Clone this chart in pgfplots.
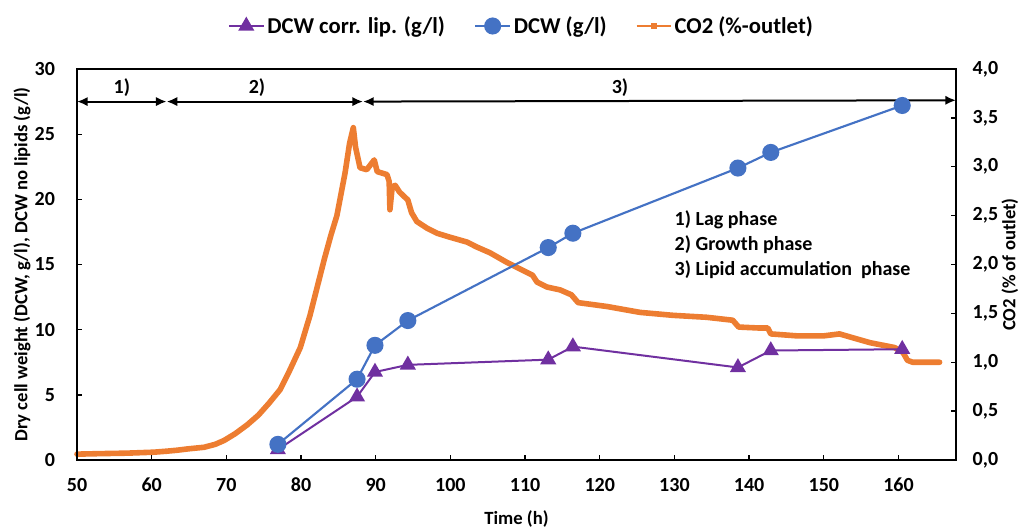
\documentclass[border=0pt]{standalone}
\usepackage{pgfplots}
\pgfplotsset{compat=1.18}
\usepackage{fontspec}
\setmainfont{Carlito}
\usetikzlibrary{arrows.meta}
\definecolor{cblue}{HTML}{4472C4}
\definecolor{corange}{HTML}{ED7D31}
\definecolor{cpurple}{HTML}{7030A0}
\begin{document}
\begin{tikzpicture}
\pgfplotsset{
  base/.style={
    width=659.25pt, height=293.25pt, scale only axis,
    xmin=50, xmax=167.7,
    tick align=inside, major tick length=4pt,
    axis line style={line width=1.2pt},
    every tick/.style={black, line width=1pt},
    ticklabel style={font=\fontsize{15}{18}\selectfont\bfseries},
    /pgf/number format/assume math mode=true,
    clip=false,
  },
}
\begin{axis}[base, name=co2,
  axis y line*=right, axis x line=none,
  ymin=0, ymax=4, ytick={0,0.5,1,1.5,2,2.5,3,3.5,4},
  yticklabel style={xshift=9pt, /pgf/number format/.cd, fixed, fixed zerofill, precision=1, use comma},
  ylabel={CO2 (\% of outlet)},
  every axis y label/.style={at={(axis description cs:1.0614,0.5)}, anchor=center, rotate=90, font=\fontsize{14}{17}\selectfont\bfseries},
]
\addplot[corange, line width=4.2pt, line join=round, line cap=round] coordinates {
(50,0.06) (53,0.065) (56.7,0.07) (60.3,0.08) (62,0.09) (63.4,0.10) (65,0.115) (67,0.13) (68.5,0.16) (69.7,0.20)
(71.2,0.27) (72.8,0.36) (74.3,0.46) (75.7,0.58) (77.2,0.72) (78.5,0.92) (79.9,1.15) (81.2,1.48) (82.1,1.75)
(83.1,2.05) (84.0,2.30) (84.8,2.50) (85.9,2.94) (86.5,3.24) (87.0,3.40) (87.3,3.20) (87.9,2.99) (88.8,2.97)
(89.5,3.04) (89.8,3.07) (90.2,2.95) (91.5,2.92) (91.8,2.85) (91.9,2.56) (92.2,2.79) (92.6,2.81) (93.2,2.74)
(94.3,2.66) (94.8,2.53) (95.5,2.44) (96.9,2.37) (98.2,2.32) (99.9,2.28) (102.2,2.23) (103.5,2.18) (105.3,2.12)
(107.6,2.02) (109.7,1.94) (111.0,1.89) (111.6,1.82) (112.9,1.77) (114.7,1.74) (116.2,1.69) (117.1,1.61)
(121,1.57) (125.4,1.51) (129.8,1.48) (134.3,1.46) (137.8,1.43) (138.6,1.36) (141.4,1.35) (142.5,1.35)
(142.9,1.29) (146.4,1.27) (150,1.27) (152.1,1.29) (153.9,1.25) (156.2,1.20) (159.5,1.15) (160.6,1.10)
(161.2,1.02) (161.9,1.00) (165.5,1.00)
};
\end{axis}
\begin{axis}[base, name=dcw,
  ymin=0, ymax=30, ytick={0,5,...,30}, xtick={50,60,...,160},
  xtick pos=left, ytick pos=left,
  yticklabel style={xshift=-13pt}, xticklabel style={yshift=-10pt},
  xlabel={Time (h)},
  ylabel={Dry cell weight (DCW, g/l), DCW no lipids (g/l)},
  every axis x label/.style={at={(axis description cs:0.5,-0.1509)}, anchor=center, font=\fontsize{14}{17}\selectfont\bfseries},
  every axis y label/.style={at={(axis description cs:-0.0626,0.5)}, anchor=center, rotate=90, font=\fontsize{14}{17}\selectfont\bfseries},
  legend style={at={(axis description cs:0.506,1.11)}, anchor=center, draw=none, fill=none,
    legend columns=-1, font=\fontsize{17}{20}\selectfont\bfseries,
    /tikz/every even column/.append style={column sep=20pt}},
  legend image code/.code={\draw[mark repeat=2,mark phase=2] plot coordinates {(0pt,0pt) (13pt,0pt) (26pt,0pt)};},
]
\addplot[cpurple, line width=1.5pt, mark=triangle*, mark size=5.5pt, mark options={solid}] coordinates {
(76.9,0.8) (87.5,4.85) (89.9,6.75) (94.3,7.3) (113.1,7.7) (116.4,8.7) (138.5,7.1) (142.9,8.4) (160.5,8.5)
};
\addlegendentry{DCW corr. lip. (g/l)}
\addplot[cblue, line width=1.6pt, mark=*, mark size=5.6pt, mark options={solid}] coordinates {
(76.9,1.2) (87.5,6.2) (89.9,8.8) (94.3,10.7) (113.1,16.3) (116.4,17.4) (138.5,22.4) (142.9,23.6) (160.5,27.2)
};
\addlegendentry{DCW (g/l)}
\addlegendimage{corange, line width=1pt, mark=square*, mark size=1.5pt}
\addlegendentry{CO2 (\%-outlet)}
\draw[line width=1.5pt, {Latex[length=8pt,width=7pt]}-{Latex[length=8pt,width=7pt]}] (axis cs:50,27.5) -- (axis cs:62,27.5);
\draw[line width=1.5pt, {Latex[length=8pt,width=7pt]}-{Latex[length=8pt,width=7pt]}] (axis cs:62,27.5) -- (axis cs:88.3,27.5);
\draw[line width=1.5pt, {Latex[length=8pt,width=7pt]}-{Latex[length=8pt,width=7pt]}] (axis cs:88.3,27.5) -- (axis cs:167.7,27.6);
\node[font=\fontsize{15}{18}\selectfont\bfseries] at (axis cs:56,28.6) {1)};
\node[font=\fontsize{15}{18}\selectfont\bfseries] at (axis cs:74.1,28.6) {2)};
\node[font=\fontsize{15}{18}\selectfont\bfseries] at (axis cs:122.7,28.6) {3)};
\node[font=\fontsize{15}{18.75}\selectfont\bfseries, anchor=west, align=left, inner sep=0pt] at (axis cs:130,16.5)
  {1) Lag phase\\2) Growth phase\\3) Lipid accumulation\ \ phase};
\end{axis}
\pgfresetboundingbox
\path ([shift={(-57.75pt,-51.75pt)}]dcw.south west) rectangle ([shift={(57.75pt,51.75pt)}]dcw.north east);
\end{tikzpicture}
\end{document}
